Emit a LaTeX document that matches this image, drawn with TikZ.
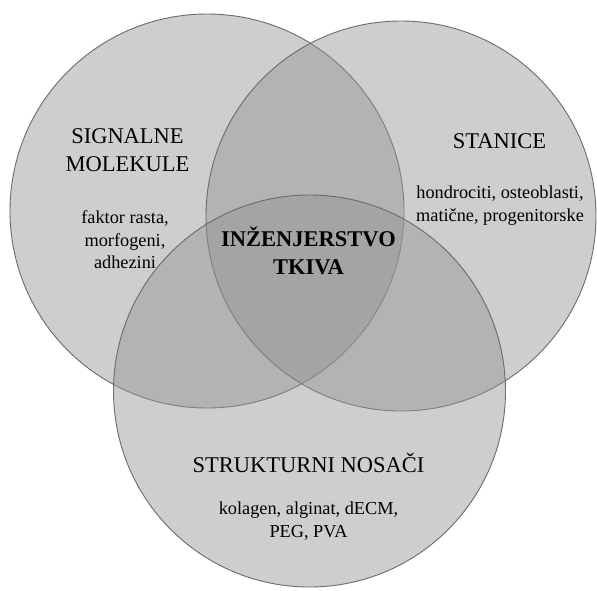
\documentclass[tikz,border=0pt]{standalone}
\usepackage{fontspec}
\setmainfont{Liberation Serif}
\definecolor{circfill}{gray}{0.578}
\definecolor{circline}{gray}{0.42}
\tikzset{
  venn/.style={fill=circfill, fill opacity=0.45, draw=circline, line width=0.9pt},
  title/.style={font=\fontsize{22.5}{28}\selectfont, align=center, text=black},
  items/.style={font=\fontsize{18.3}{22.5}\selectfont, align=center, text=black},
  core/.style={font=\fontsize{22.5}{28}\selectfont\bfseries, align=center, text=black}
}
\begin{document}
\begin{tikzpicture}[x=1pt,y=-1pt]
\useasboundingbox (0,0) rectangle (597,590);
\fill[white] (0,0) rectangle (597,590);
\path[venn] (207,211) circle[radius=197];
\path[venn] (401,216) circle[radius=195];
\path[venn] (309.5,391) circle[radius=196];
\node[title] (sig) at (127.5,150) {SIGNALNE\\MOLEKULE};
\node[items] (sigi) at (125,240) {faktor rasta,\\morfogeni,\\adhezini};
\node[title] (sta) at (499.5,141) {STANICE};
\node[items] (stai) at (500,205.5) {hondrociti, osteoblasti,\\matične, progenitorske};
\node[core] (ink) at (308.5,251) {INŽENJERSTVO\\TKIVA};
\node[title] (str) at (308.5,463) {STRUKTURNI NOSAČI};
\node[items] (stri) at (308.5,521) {kolagen, alginat, dECM,\\PEG, PVA};
\end{tikzpicture}
\end{document}
